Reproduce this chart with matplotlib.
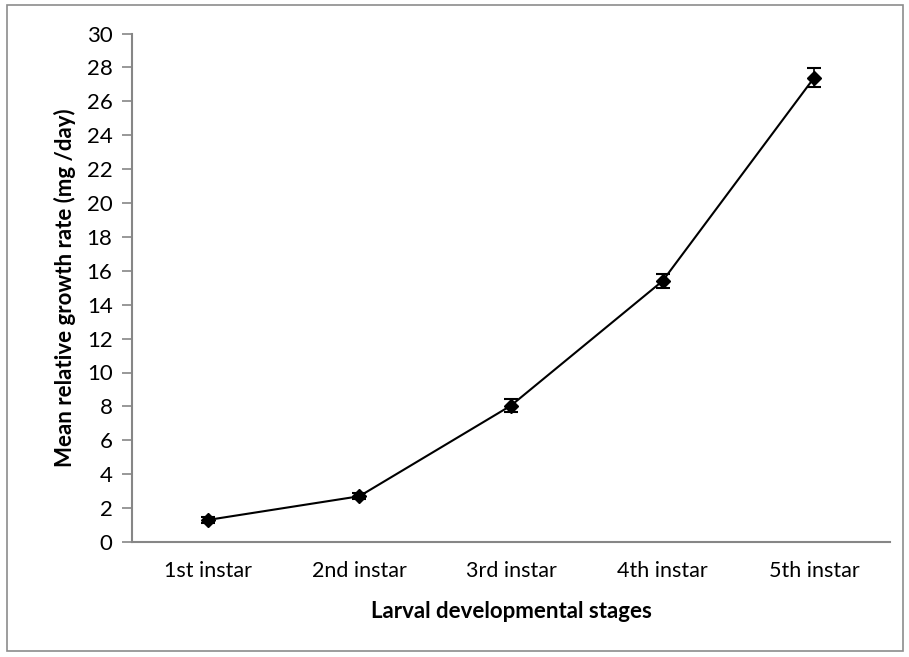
import matplotlib
matplotlib.use("Agg")
import matplotlib.pyplot as plt
from matplotlib.patches import Rectangle

categories = ["1st instar", "2nd instar", "3rd instar", "4th instar", "5th instar"]
values = [1.3, 2.7, 8.05, 15.4, 27.4]
errors = [0.15, 0.18, 0.38, 0.44, 0.54]
yticks = list(range(0, 31, 2))

plt.rcParams['font.family'] = ['Lato', 'DejaVu Sans']

fig = plt.figure(figsize=(9.09, 6.57), dpi=100)
ax = fig.add_axes([132/909, 1-542/657, (890-132)/909, (542-33.5)/657])

x = list(range(len(categories)))
ax.errorbar(x, values, yerr=errors, color='black', marker='D', markersize=7,
            linewidth=1.5, capsize=5, capthick=1.5, elinewidth=1.2)

ax.set_xlim(-0.5, len(categories) - 0.5)
ax.set_ylim(0, 30)
ax.set_yticks(yticks)
ax.set_yticklabels([str(t) for t in yticks], fontsize=16)
ax.set_xticks(x)
ax.set_xticklabels(categories, fontsize=15.5)
ax.tick_params(axis='y', direction='out', length=7, color='#868686', width=1.2, pad=7)
ax.tick_params(axis='x', length=0, pad=14)
for s in ['top', 'right']:
    ax.spines[s].set_visible(False)
for s in ['left', 'bottom']:
    ax.spines[s].set_color('#868686')
    ax.spines[s].set_linewidth(1.5)

ax.set_xlabel("Larval developmental stages", fontsize=16, fontweight='bold', labelpad=14)
ax.set_ylabel("Mean relative growth rate (mg /day)", fontsize=16, fontweight='bold', labelpad=8)

fig.patches.append(Rectangle((7/909, 1-651/657), (903-7)/909, (651-5)/657,
                             transform=fig.transFigure, fill=False,
                             edgecolor='#8c8c8c', linewidth=1.2))

fig.savefig("out.png", dpi=100)
